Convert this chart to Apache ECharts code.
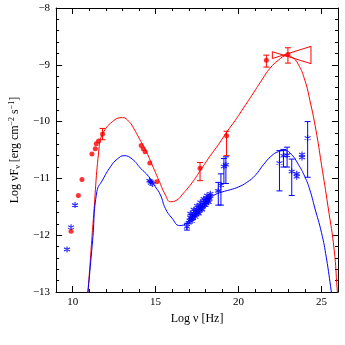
<!DOCTYPE html>
<html>
<head>
<meta charset="utf-8">
<script src="https://cdn.jsdelivr.net/npm/echarts@6/dist/echarts.min.js"></script>
<style>
  html, body { margin: 0; padding: 0; background: #fff; }
  #sed { width: 345px; height: 345px; }
</style>
</head>
<body>
<div id="sed"></div>
<script>
// model curves [log nu, log nuFnu]
const redModel = [
  [10.85, -13.2], [10.92, -13.0], [11.25, -11.7], [11.6, -10.44], [11.8, -10.22], [12.4, -10.0],
  [13.0, -9.93], [13.4, -10.0], [13.7, -10.13], [14.0, -10.29], [14.39, -10.5], [14.79, -10.76],
  [15.19, -11.03], [15.59, -11.29], [15.89, -11.41], [16.29, -11.38], [16.59, -11.29],
  [17.19, -11.08], [17.7, -10.86], [18.3, -10.6], [18.8, -10.4], [19.3, -10.18], [19.8, -9.98],
  [20.3, -9.76], [20.8, -9.54], [21.4, -9.27], [21.9, -9.06], [22.4, -8.92], [22.9, -8.84],
  [23.2, -8.86], [23.6, -8.99], [24.0, -9.27], [24.3, -9.62], [24.67, -10.15], [25.0, -10.75],
  [25.4, -11.5], [25.77, -12.26], [25.95, -12.95], [26.05, -13.3]
];
const blueModel = [
  [10.85, -13.2], [10.92, -13.0], [11.2, -12.1], [11.46, -11.23], [11.8, -11.03], [12.29, -10.79],
  [12.69, -10.66], [13.1, -10.6], [13.59, -10.66], [14.09, -10.82], [14.59, -10.97], [14.99, -11.15],
  [15.29, -11.29], [15.59, -11.53], [15.99, -11.7], [16.45, -11.83], [16.9, -11.78], [17.4, -11.6],
  [17.98, -11.42], [18.5, -11.3], [19.0, -11.24], [19.5, -11.2], [20.0, -11.15], [20.5, -11.07],
  [21.0, -10.95], [21.5, -10.76], [22.0, -10.6], [22.4, -10.53], [22.8, -10.51], [23.2, -10.58],
  [23.6, -10.75], [24.0, -10.97], [24.3, -11.2], [24.6, -11.52], [25.0, -11.95], [25.3, -12.4],
  [25.6, -13.0], [25.7, -13.2]
];

// observed points
const redPoints = [
  [9.9, -11.93], [10.34, -11.3], [10.56, -11.02], [11.16, -10.57], [11.36, -10.48], [11.42, -10.39],
  [11.56, -10.34], [14.13, -10.42], [14.25, -10.48], [14.37, -10.53], [14.65, -10.73], [15.07, -11.06]
];
// [x, y, upper, lower]
const redErrPoints = [
  [11.8, -10.22, -10.12, -10.32], [17.68, -10.82, -10.72, -11.04], [19.28, -10.25, -10.17, -10.6],
  [21.68, -8.92, -8.83, -9.04], [22.98, -8.82, -8.7, -8.97]
];
const bluePoints = [
  [9.66, -12.25], [9.9, -11.86], [10.14, -11.47], [14.63, -11.04], [14.7, -11.06], [14.73, -11.08],
  [14.81, -11.1], [17.05, -11.74], [17.1, -11.69], [17.15, -11.72], [17.2, -11.66], [17.25, -11.7],
  [17.3, -11.62], [17.35, -11.66], [17.4, -11.58], [17.45, -11.63], [17.5, -11.55], [17.55, -11.6],
  [17.6, -11.52], [17.65, -11.56], [17.7, -11.48], [17.75, -11.53], [17.8, -11.45], [17.85, -11.5],
  [17.9, -11.42], [17.95, -11.46], [18.0, -11.39], [18.05, -11.43], [18.1, -11.36], [18.15, -11.4],
  [18.2, -11.33], [18.25, -11.36], [18.3, -11.31],
  [17.0, -11.78], [17.1, -11.62], [17.2, -11.75], [17.3, -11.55], [17.4, -11.68], [17.5, -11.48],
  [17.6, -11.62], [17.7, -11.42], [17.8, -11.55], [17.9, -11.36], [18.0, -11.47], [18.1, -11.3],
  [18.2, -11.42], [18.3, -11.27],
  [23.51, -10.92], [23.51, -10.97], [23.83, -10.58], [23.83, -10.63]
];
const blueErrPoints = [
  [16.89, -11.85, -11.79, -11.91], [18.78, -11.22, -11.07, -11.47], [18.94, -11.12, -10.92, -11.47],
  [19.12, -10.79, -10.65, -11.09], [19.24, -10.76, -10.62, -11.09], [22.47, -10.73, -10.51, -11.22],
  [22.71, -10.6, -10.49, -10.8], [22.93, -10.59, -10.45, -10.8], [23.21, -10.88, -10.66, -11.3],
  [24.17, -10.29, -10.0, -10.98]
];
// gamma-ray bowtie outline
const bowtie = [[22.04, -8.77], [24.37, -8.98], [24.37, -8.675], [22.04, -8.89], [22.04, -8.77]];

const xTicksMajor = [10, 15, 20, 25];

const RED = '#ff0000';
const BLUE = '#0000ff';
const FONT = 'Liberation Serif';
const STAR = 'path://M5 0L5 10M0.7 2.5L9.3 7.5M0.7 7.5L9.3 2.5';

const myChart = echarts.init(document.getElementById('sed'));

function errorBars(color) {
  return function (params, api) {
    const x = api.value(0);
    const top = api.coord([x, api.value(2)]);
    const bot = api.coord([x, api.value(3)]);
    const w = 3;
    const st = { stroke: color, lineWidth: 1 };
    return {
      type: 'group',
      children: [
        { type: 'line', shape: { x1: top[0], y1: top[1], x2: bot[0], y2: bot[1] }, style: st },
        { type: 'line', shape: { x1: top[0] - w, y1: top[1], x2: top[0] + w, y2: top[1] }, style: st },
        { type: 'line', shape: { x1: bot[0] - w, y1: bot[1], x2: bot[0] + w, y2: bot[1] }, style: st }
      ]
    };
  };
}

const minus = v => String(v).replace('-', '\u2212');
const baseX = { type: 'value', min: 9, max: 26, splitLine: { show: false } };
const baseY = { type: 'value', min: -13, max: -8, interval: 1, splitLine: { show: false } };
const lineBlack = { lineStyle: { color: '#000', width: 1 } };

const option = {
  animation: false,
  grid: { left: 53, right: 7, top: 8, bottom: 53 },
  xAxis: [
    Object.assign({}, baseX, {
      position: 'bottom',
      interval: 1,
      axisLine: lineBlack,
      axisTick: { inside: true, length: 3, lineStyle: { color: '#000' } },
      axisLabel: { show: false },
      name: 'Log \u03bd [Hz]',
      nameLocation: 'middle',
      nameGap: 21,
      nameTextStyle: { fontFamily: FONT, fontSize: 12, color: '#000' }
    }),
    Object.assign({}, baseX, {
      position: 'bottom',
      axisLine: { show: false },
      axisTick: { inside: true, length: 6, customValues: xTicksMajor, lineStyle: { color: '#000' } },
      axisLabel: { customValues: xTicksMajor, fontFamily: FONT, fontSize: 11, color: '#000', margin: 5 }
    }),
    Object.assign({}, baseX, {
      position: 'top',
      interval: 1,
      axisLine: lineBlack,
      axisTick: { inside: true, length: 3, lineStyle: { color: '#000' } },
      axisLabel: { show: false }
    }),
    Object.assign({}, baseX, {
      position: 'top',
      axisLine: { show: false },
      axisTick: { inside: true, length: 6, customValues: xTicksMajor, lineStyle: { color: '#000' } },
      axisLabel: { show: false }
    })
  ],
  yAxis: [
    Object.assign({}, baseY, {
      position: 'left',
      axisLine: lineBlack,
      axisTick: { inside: true, length: 6, lineStyle: { color: '#000' } },
      minorTick: { show: true, splitNumber: 5, length: 3, lineStyle: { color: '#000' } },
      axisLabel: { fontFamily: FONT, fontSize: 11, color: '#000', margin: 6, formatter: minus },
      name: 'Log \u03bdF{s|\u03bd} [erg cm{p|\u22122} s{p|\u22121}]',
      nameLocation: 'middle',
      nameRotate: 90,
      nameGap: 33,
      nameTextStyle: {
        fontFamily: FONT, fontSize: 12, color: '#000',
        rich: {
          s: { fontFamily: FONT, fontSize: 8, color: '#000', verticalAlign: 'bottom', padding: [6, 0, 0, 0] },
          p: { fontFamily: FONT, fontSize: 8, color: '#000', verticalAlign: 'top', padding: [0, 0, 6, 0] }
        }
      }
    }),
    Object.assign({}, baseY, {
      position: 'right',
      axisLine: lineBlack,
      axisTick: { inside: true, length: 6, lineStyle: { color: '#000' } },
      minorTick: { show: true, splitNumber: 5, length: 3, lineStyle: { color: '#000' } },
      axisLabel: { show: false }
    })
  ],
  series: [
    {
      type: 'line', data: redModel, smooth: 0.5, symbol: 'none', clip: true,
      lineStyle: { color: RED, width: 1 }
    },
    {
      type: 'line', data: blueModel, smooth: 0.5, symbol: 'none', clip: true,
      lineStyle: { color: BLUE, width: 1 }
    },
    {
      type: 'line', data: bowtie, symbol: 'none',
      lineStyle: { color: RED, width: 1 }
    },
    {
      type: 'custom', data: redErrPoints, renderItem: errorBars(RED),
      encode: { x: 0, y: [1, 2, 3] }
    },
    {
      type: 'custom', data: blueErrPoints, renderItem: errorBars(BLUE),
      encode: { x: 0, y: [1, 2, 3] }
    },
    {
      type: 'scatter', data: redPoints.concat(redErrPoints.map(p => [p[0], p[1]])),
      symbol: 'circle', symbolSize: 5, itemStyle: { color: RED }
    },
    {
      type: 'scatter', data: bluePoints.concat(blueErrPoints.map(p => [p[0], p[1]])),
      symbol: STAR, symbolSize: 6,
      itemStyle: { color: 'none', borderColor: BLUE, borderWidth: 1.2 }
    }
  ]
};

myChart.setOption(option);
</script>
</body>
</html>
